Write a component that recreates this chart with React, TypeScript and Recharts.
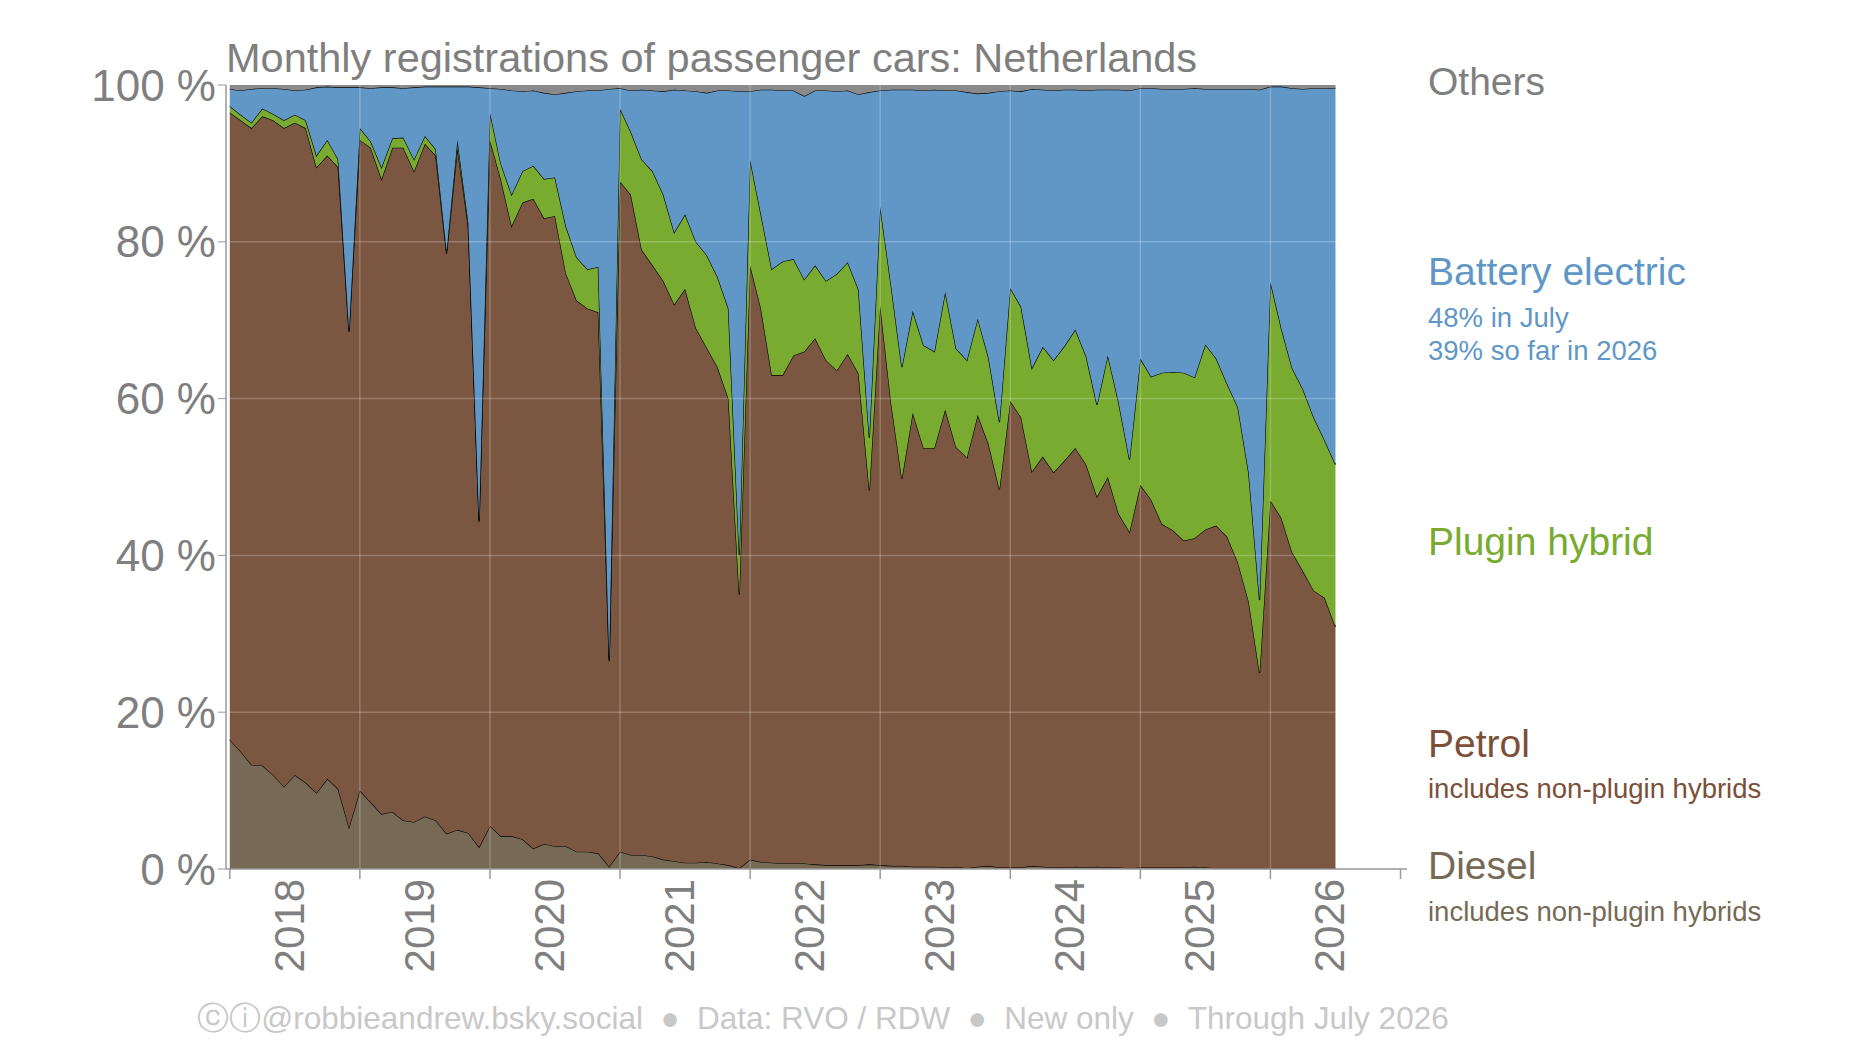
import React from "react"
import { AreaChart, Area, XAxis, YAxis, ReferenceLine } from "recharts"

// cumulative boundaries (%), monthly Jan 2018 - Jul 2026
const dieselTop = [
  16.5, 15, 13.3, 13.2, 12, 10.5, 12, 11, 9.7, 11.5, 10.2, 5.3,
  10, 8.5, 7, 7.3, 6.2, 6, 6.7, 6.2, 4.5, 5, 4.6, 2.8,
  5.5, 4.2, 4.2, 3.8, 2.6, 3.2, 2.9, 2.9, 2.2, 2.2, 2, 0.3,
  2.2, 1.8, 1.8, 1.6, 1.2, 1.0, 0.8, 0.8, 0.9, 0.7, 0.5, 0.1,
  1.2, 0.9, 0.8, 0.7, 0.7, 0.7, 0.6, 0.5, 0.5, 0.5, 0.5, 0.6,
  0.5, 0.4, 0.4, 0.3, 0.3, 0.3, 0.2, 0.3, 0.1, 0.3, 0.4, 0.2,
  0.2, 0.2, 0.4, 0.3, 0.2, 0.2, 0.3, 0.2, 0.3, 0.2, 0.2, 0.1,
  0.2, 0.2, 0.2, 0.2, 0.2, 0.3, 0.2, 0.1, 0.1, 0.1, 0.1, 0.1,
  0.1, 0.1, 0.1, 0.1, 0.1, 0.1, 0.1,
]
const petrolTop = [
  96.5, 95.5, 94.5, 96, 95.5, 94.5, 95.2, 94.5, 89.5, 91, 89.5, 68.5,
  93, 92, 88, 92, 92, 89, 92.5, 91, 78.5, 92, 82, 44.3,
  93, 88, 82, 85, 85.5, 83, 83.3, 76, 72.5, 71.5, 71, 26.5,
  87.7, 86, 79, 77, 75, 72, 74, 69, 66.5, 64, 60, 35,
  77, 71.5, 63, 63, 65.5, 66, 67.7, 64.9, 63.6, 65.7, 63.2, 48.3,
  71.9, 59.5, 49.8, 58.2, 53.7, 53.7, 58.6, 53.8, 52.5, 57.9, 54.2, 48.4,
  59.7, 57.6, 50.7, 52.6, 50.6, 52.1, 53.7, 51.6, 47.5, 50, 45.3, 43,
  49, 47.1, 44, 43.2, 41.9, 42.2, 43.3, 43.8, 42.4, 39.1, 34.1, 25,
  47, 44.8, 40.4, 38, 35.5, 34.6, 30.9,
]
const phevTop = [
  97.3, 96.2, 95.2, 97, 96.3, 95.5, 96.2, 95.5, 91, 93, 90.5, 68.7,
  94.5, 92.8, 89.5, 93.2, 93.3, 90.5, 93.5, 91.8, 78.8, 93, 82.5, 44.5,
  96.5, 90, 86, 89, 89.7, 88, 88.2, 82, 78, 76.5, 76.8, 26.7,
  97, 94, 90.5, 89, 86, 81.2, 83.5, 80, 78.3, 75.5, 71.5, 40,
  90.5, 83.5, 76.5, 77.5, 77.8, 75.2, 77, 75, 75.9, 77.4, 73.9, 55,
  84.5, 74.5, 64, 71.2, 66.8, 66, 73.6, 66.4, 64.9, 70.2, 65.2, 57,
  74.1, 71.7, 63.9, 66.6, 64.9, 66.7, 68.8, 65.4, 59.2, 65.5, 59.5, 52.2,
  65.1, 62.8, 63.3, 63.4, 63.3, 62.7, 66.9, 65.1, 61.9, 58.9, 50.5, 34.3,
  74.9, 69, 63.9, 61.2, 57.6, 54.7, 51.6,
]
const bevTop = [
  99.5, 99.3, 99.5, 99.6, 99.6, 99.5, 99.3, 99.4, 99.7, 99.8, 99.7, 99.7,
  99.7, 99.6, 99.7, 99.7, 99.6, 99.7, 99.8, 99.8, 99.8, 99.8, 99.8, 99.7,
  99.6, 99.5, 99.3, 99.2, 99.3, 99, 98.8, 99, 99.2, 99.3, 99.3, 99.5,
  99.6, 99.3, 99.4, 99.3, 99.2, 99.4, 99.3, 99.2, 99, 99.3, 99.3, 99.2,
  99.2, 99.4, 99.4, 99.3, 99.3, 98.6, 99.3, 99.3, 99.2, 99.3, 98.8, 99.1,
  99.3, 99.4, 99.4, 99.4, 99.3, 99.4, 99.3, 99.3, 99.1, 98.9, 99, 99.2,
  99.3, 99.2, 99.5, 99.4, 99.3, 99.4, 99.4, 99.3, 99.4, 99.4, 99.4, 99.3,
  99.6, 99.6, 99.5, 99.5, 99.5, 99.6, 99.5, 99.5, 99.5, 99.5, 99.5, 99.4,
  99.8, 99.8, 99.6, 99.5, 99.6, 99.6, 99.6,
]
const years = [2018, 2019, 2020, 2021, 2022, 2023, 2024, 2025, 2026]
const yTicks = [0, 20, 40, 60, 80, 100]

const data = dieselTop.map((d, i) => ({
  m: i,
  diesel: d,
  petrol: petrolTop[i] - d,
  phev: phevTop[i] - petrolTop[i],
  bev: bevTop[i] - phevTop[i],
  others: 100 - bevTop[i],
}))

const FONT = "'Liberation Sans', Arial, sans-serif"
const GREY = "#7f7f7f"

const tickValues = years.map((_, i) => i * 12)

const XTick = (props: any) => {
  const { x, y, payload } = props
  const i = tickValues.indexOf(payload.value)
  const lx = x + 65
  return (
    <g>
      <line x1={x} y1={y - 8} x2={x} y2={y + 2} stroke="#999" strokeWidth={1.5} />
      {i >= 0 && (
        <text
          transform={`translate(${lx + 9},${y + 2}) rotate(-90)`}
          textAnchor="end"
          fill={GREY}
          fontSize={42}
          fontFamily={FONT}
        >
          {years[i]}
        </text>
      )}
    </g>
  )
}

const label = (top: number, text: string, color: string, size: number) => (
  <div style={{ position: "absolute", left: 1428, top, color, fontSize: size, fontFamily: FONT, whiteSpace: "nowrap" }}>
    {text}
  </div>
)

export default function App() {
  return (
    <div style={{ position: "absolute", left: 0, top: 0, width: 1852, height: 1042, background: "#fff" }}>
      <AreaChart width={1852} height={1042} data={data} margin={{ top: 85, right: 445, bottom: 0, left: 0 }}>
        <XAxis
          type="number"
          dataKey="m"
          domain={[-0.35, 108.6]}
          ticks={[...tickValues, 108]}
          tick={<XTick />}
          tickLine={false}
          axisLine={{ stroke: "#999", strokeWidth: 1.5 }}
          height={173}
          allowDataOverflow
        />
        <YAxis
          type="number"
          domain={[0, 100]}
          ticks={yTicks}
          width={226}
          tickFormatter={(v) => `${v} %`}
          tick={{ fill: GREY, fontSize: 44, fontFamily: FONT }}
          tickLine={{ stroke: "#999" }}
          tickSize={8}
          axisLine={{ stroke: "#999", strokeWidth: 1.5 }}
        />
        <Area type="linear" dataKey="diesel" stackId="a" fill="#766a55" fillOpacity={1} stroke="#000" strokeWidth={1.2} isAnimationActive={false} />
        <Area type="linear" dataKey="petrol" stackId="a" fill="#7b5640" fillOpacity={1} stroke="#000" strokeWidth={1.2} isAnimationActive={false} />
        <Area type="linear" dataKey="phev" stackId="a" fill="#78ab30" fillOpacity={1} stroke="#000" strokeWidth={1.2} isAnimationActive={false} />
        <Area type="linear" dataKey="bev" stackId="a" fill="#6097c6" fillOpacity={1} stroke="#000" strokeWidth={1.2} isAnimationActive={false} />
        <Area type="linear" dataKey="others" stackId="a" fill="#8a8a8a" fillOpacity={1} stroke="none" isAnimationActive={false} />
        {yTicks.slice(1, 5).map((t) => (
          <ReferenceLine key={"h" + t} y={t} stroke="rgba(255,255,255,0.22)" strokeWidth={1.5} segment={[{ x: -0.35, y: t }, { x: 102, y: t }]} />
        ))}
        {tickValues.slice(1).map((t) => (
          <ReferenceLine key={"v" + t} x={t} stroke="rgba(255,255,255,0.22)" strokeWidth={1.5} />
        ))}
      </AreaChart>
      <div style={{ position: "absolute", left: 226, top: 34, color: GREY, fontSize: 41.5, fontFamily: FONT, whiteSpace: "nowrap" }}>
        Monthly registrations of passenger cars: Netherlands
      </div>
      {label(60, "Others", GREY, 39)}
      {label(250, "Battery electric", "#5f97c6", 39)}
      {label(302, "48% in July", "#5f97c6", 27.5)}
      {label(335, "39% so far in 2026", "#5f97c6", 27.5)}
      {label(520, "Plugin hybrid", "#78ab30", 39)}
      {label(722, "Petrol", "#7b4f38", 39)}
      {label(773, "includes non-plugin hybrids", "#7b4f38", 27.5)}
      {label(844, "Diesel", "#766a55", 39)}
      {label(896, "includes non-plugin hybrids", "#766a55", 27.5)}
      <div style={{ position: "absolute", left: 0, width: 1646, textAlign: "center", top: 998, color: "#c8c8c8", fontSize: 31.5, fontFamily: FONT, whiteSpace: "nowrap" }}>
        ⓒⓘ@robbieandrew.bsky.social&nbsp;&nbsp;●&nbsp;&nbsp;Data: RVO / RDW&nbsp;&nbsp;●&nbsp;&nbsp;New only&nbsp;&nbsp;●&nbsp;&nbsp;Through July 2026
      </div>
    </div>
  )
}
